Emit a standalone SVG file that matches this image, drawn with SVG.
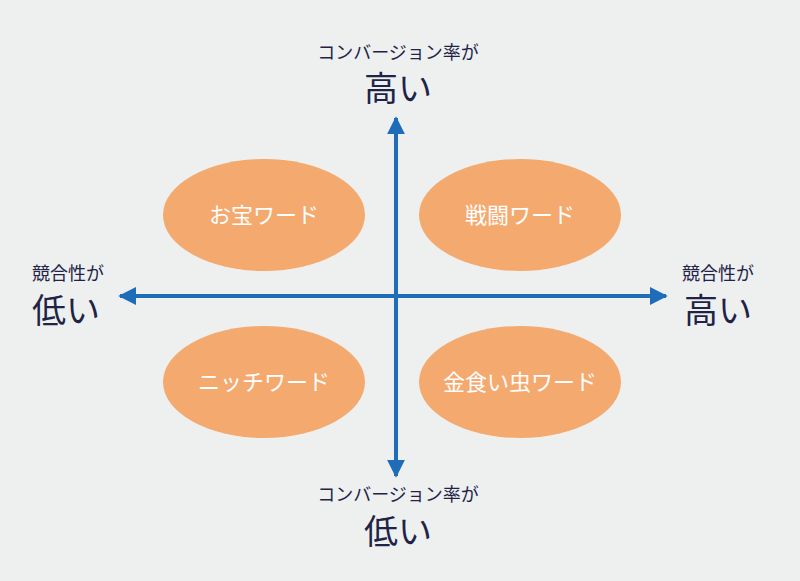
<svg xmlns="http://www.w3.org/2000/svg" width="800" height="581" viewBox="0 0 800 581">
<style>
.e{fill:#f4a96f}
.lbl{font-family:"Noto Sans CJK JP",sans-serif;fill:#fff;font-size:22px;text-anchor:middle}
.s{font-family:"Noto Sans CJK JP",sans-serif;fill:#1f2447;font-size:18px;text-anchor:middle}
.b{font-family:"Noto Sans CJK JP",sans-serif;fill:#1f2447;font-size:34px;text-anchor:middle}
.ax{stroke:#1f6db8;stroke-width:4;fill:none}
</style>
<defs><marker id="a" viewBox="0 0 10 10" refX="9" refY="5" markerWidth="4.5" markerHeight="4.5" orient="auto" markerUnits="strokeWidth"><path d="M0,0L10,5L0,10z" fill="#1f6db8"/></marker></defs>
<rect width="800" height="581" fill="#eef0f0"/>
<g id="connectors">
<line class="ax" x1="396" y1="296" x2="396" y2="118" marker-end="url(#a)"/>
<line class="ax" x1="396" y1="296" x2="396" y2="476" marker-end="url(#a)"/>
<line class="ax" x1="396" y1="296" x2="120" y2="296" marker-end="url(#a)"/>
<line class="ax" x1="396" y1="296" x2="666" y2="296" marker-end="url(#a)"/>
</g>
<g id="n1"><ellipse class="e" cx="264" cy="215" rx="101" ry="56"/><text class="lbl" x="264" y="223">お宝ワード</text></g>
<g id="n2"><ellipse class="e" cx="520" cy="215" rx="101" ry="56"/><text class="lbl" x="520" y="223">戦闘ワード</text></g>
<g id="n3"><ellipse class="e" cx="264" cy="382" rx="101" ry="56"/><text class="lbl" x="264" y="390">ニッチワード</text></g>
<g id="n4"><ellipse class="e" cx="520" cy="382" rx="101" ry="56"/><text class="lbl" x="520" y="390">金食い虫ワード</text></g>
<g id="top"><text class="s" x="398" y="59">コンバージョン率が</text><text class="b" x="398" y="101">高い</text></g>
<g id="bottom"><text class="s" x="398" y="501">コンバージョン率が</text><text class="b" x="398" y="544">低い</text></g>
<g id="left"><text class="s" x="68" y="280">競合性が</text><text class="b" x="66" y="323">低い</text></g>
<g id="right"><text class="s" x="718" y="280">競合性が</text><text class="b" x="718" y="323">高い</text></g>
</svg>
